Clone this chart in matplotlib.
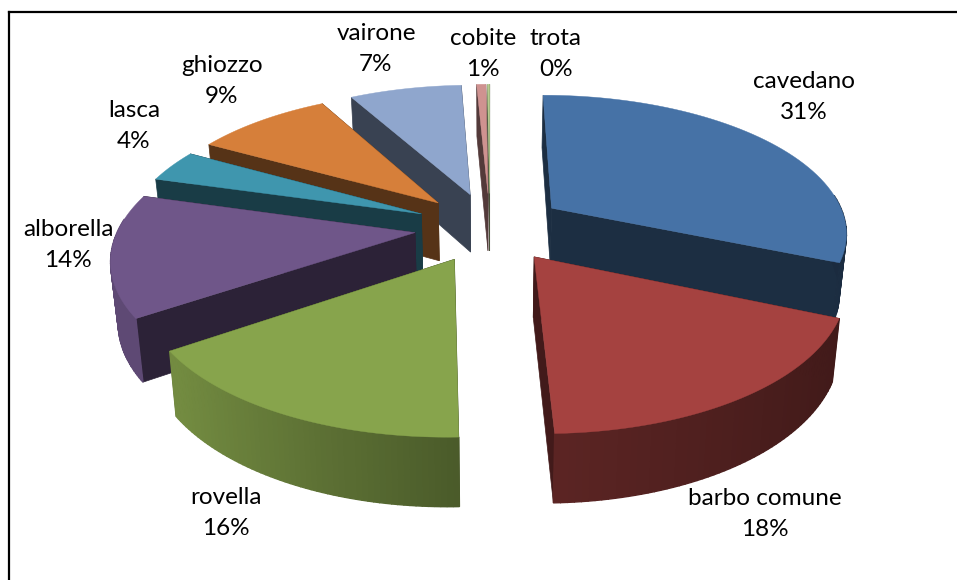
import numpy as np
import matplotlib
matplotlib.use("Agg")
import matplotlib.pyplot as plt
from matplotlib.colors import to_rgb

# Data
names = ["cavedano", "barbo comune", "rovella", "alborella", "lasca", "ghiozzo", "vairone", "cobite", "trota"]
values = [31.4, 18.1, 16.0, 13.9, 3.7, 8.85, 7.3, 0.6, 0.15]
colors = ["#4672A6", "#A54240", "#87A44C", "#6F5689", "#3F96AE", "#D67F3A", "#8FA6CD", "#CF9290", "#B5CB8F"]
label_pos = [(804, 97), (765, 514), (226, 513), (68, 245), (134, 126), (222, 81), (376, 49), (483, 54), (556, 54)]

# Pie geometry, in pixels of the picture
CX, CY = 490, 227
RX, RY = 296, 137
PERSP = 0.163
EXPLODE = 0.255
DEPTH = 59
STEPS = 60


def project(x, y):
    s = 1 / (1 + PERSP * y)
    return CX + x * RX * s, CY - y * RY * s


def lower(x, y):
    s = 1 / (1 + PERSP * y)
    px, py = project(x, y)
    return CX + (px - CX) * 0.98, CY + (py - CY) * 0.98 + DEPTH * s


def shade(color, k):
    return tuple(c * k for c in to_rgb(color))


fig = plt.figure(figsize=(9.57, 5.8), dpi=100)
ax = fig.add_axes([0, 0, 1, 1])
ax.set_xlim(0, 957)
ax.set_ylim(580, 0)
ax.axis("off")

# Chart frame, only the top and left edges are in the picture
ax.plot([9, 957], [12, 12], color="black", lw=1.6)
ax.plot([9, 9], [12, 580], color="black", lw=1.6)

fractions = np.array(values) / sum(values)
ends = np.cumsum(fractions) * 2 * np.pi
starts = ends - fractions * 2 * np.pi
mids = (starts + ends) / 2

# Back slices first
order = np.argsort(-np.cos(mids))
for i in order:
    ox = EXPLODE * np.sin(mids[i])
    oy = EXPLODE * np.cos(mids[i])
    t = np.linspace(starts[i], ends[i], STEPS)
    xs = ox + np.sin(t)
    ys = oy + np.cos(t)

    # cut faces
    dark = shade(colors[i], 0.4)
    for k in [0, -1]:
        quad = [project(ox, oy), project(xs[k], ys[k]), lower(xs[k], ys[k]), lower(ox, oy)]
        ax.fill(*zip(*quad), color=dark, lw=0.5)

    # outer wall, lit from the left, only the part facing the viewer
    for k in range(STEPS - 1):
        tm = (t[k] + t[k + 1]) / 2
        if np.cos(tm) > 0.1:
            continue
        light = np.interp(np.sin(tm), [-1, -0.8, 0, 1], [0.85, 0.85, 0.56, 0.38])
        quad = [project(xs[k], ys[k]), project(xs[k + 1], ys[k + 1]), lower(xs[k + 1], ys[k + 1]), lower(xs[k], ys[k])]
        ax.fill(*zip(*quad), color=shade(colors[i], light), lw=1)

    # top face
    top = [project(ox, oy)] + [project(a, b) for a, b in zip(xs, ys)]
    ax.fill(*zip(*top), color=colors[i], lw=0.3)

for name, val, pos in zip(names, values, label_pos):
    label = "%s\n%d%%" % (name, round(val))
    ax.text(pos[0], pos[1], label, ha="center", va="center",
            fontsize=17.5, family="Lato", color="black", linespacing=1.62)

fig.savefig("out.png", dpi=100)
